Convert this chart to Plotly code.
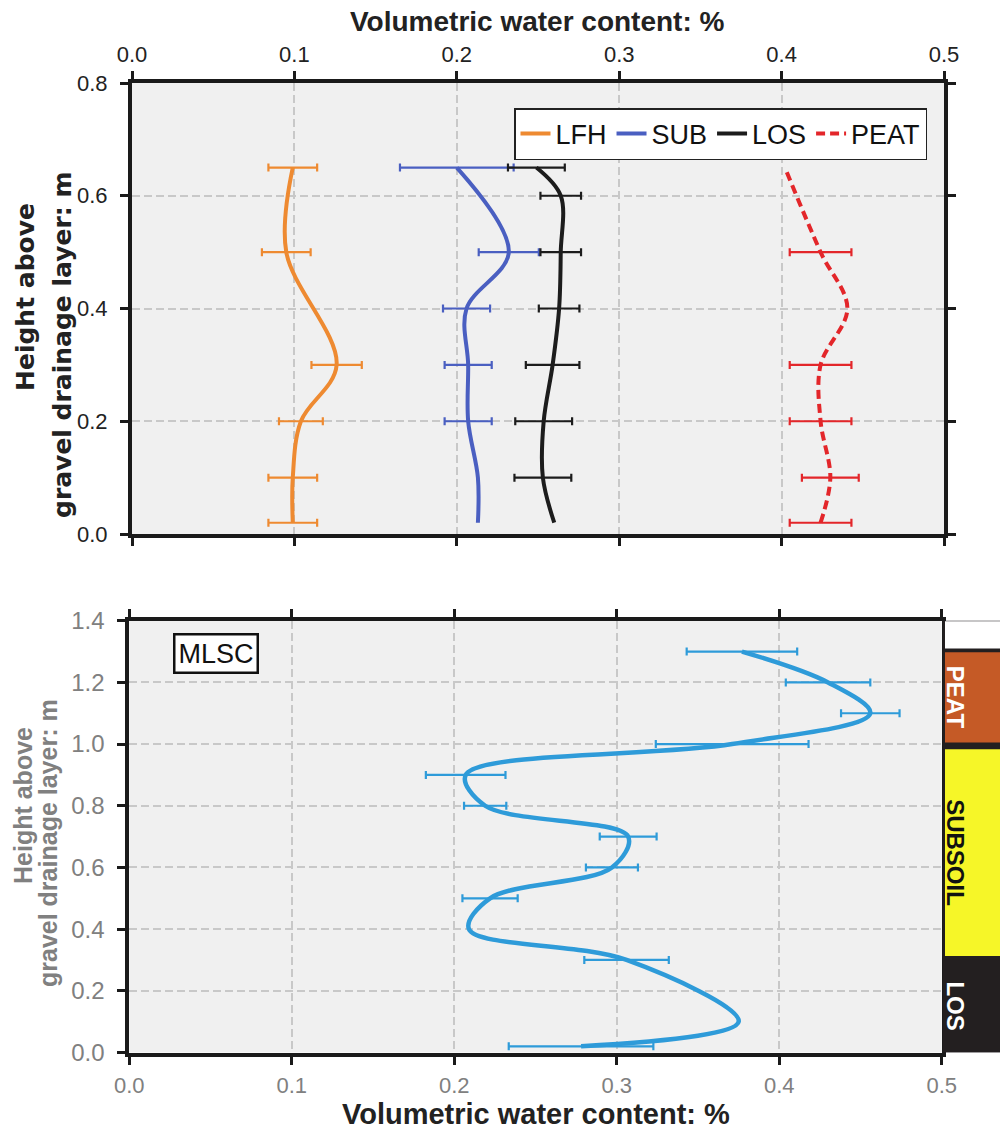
import plotly.graph_objects as go

# ---- upper panel: lysimeter profiles (height above gravel layer, m) ----
height_lfh = [0.02, 0.1, 0.2, 0.3, 0.5, 0.65]
vwc_lfh = [0.099, 0.099, 0.104, 0.126, 0.095, 0.099]
err_lfh = [0.015, 0.015, 0.0135, 0.0155, 0.015, 0.015]

height_sub = [0.02, 0.1, 0.2, 0.3, 0.4, 0.5, 0.65]
vwc_sub = [0.213, 0.213, 0.207, 0.207, 0.206, 0.232, 0.200]
err_sub = [None, None, 0.0145, 0.0145, 0.0145, 0.0185, 0.035]

height_los = [0.02, 0.1, 0.2, 0.3, 0.4, 0.5, 0.6, 0.65]
vwc_los = [0.260, 0.253, 0.2535, 0.259, 0.263, 0.264, 0.264, 0.249]
err_los = [None, 0.0175, 0.0175, 0.0165, 0.0125, 0.0125, 0.0125, 0.0175]

height_peat = [0.02, 0.1, 0.2, 0.3, 0.4, 0.5, 0.65]
vwc_peat = [0.424, 0.430, 0.424, 0.424, 0.4405, 0.424, 0.402]
err_peat = [0.019, 0.0175, 0.019, 0.019, None, 0.019, None]

# ---- lower panel: MLSC profile ----
height_mlsc = [0.02, 0.1, 0.3, 0.4, 0.5, 0.6, 0.7, 0.8, 0.9, 1.0, 1.1, 1.2, 1.3]
vwc_mlsc = [0.278, 0.375, 0.306, 0.209, 0.222, 0.297, 0.307, 0.219, 0.207, 0.371, 0.456, 0.430, 0.377]
err_mlsc = [0.0445, None, 0.026, None, 0.017, 0.016, 0.0175, 0.013, 0.0245, 0.047, 0.018, 0.026, 0.034]

# soil layers of the MLSC column
layer_names = ["LOS", "SUBSOIL", "PEAT"]
layer_bottom = [0.0, 0.313, 1.005]
layer_top = [0.302, 0.983, 1.298]

x_ticks = [0.0, 0.1, 0.2, 0.3, 0.4, 0.5]
y_ticks_top = [0.0, 0.2, 0.4, 0.6, 0.8]
y_ticks_bottom = [0.0, 0.2, 0.4, 0.6, 0.8, 1.0, 1.2, 1.4]

W, H = 1000, 1131
def px(x):
    return x / W
def py(y):
    return 1 - y / H

FONT = "Liberation Sans, Arial, sans-serif"
NARROW = "Liberation Sans Narrow, Arial Narrow, Liberation Sans, Arial, sans-serif"
GRID = "rgb(200,200,200)"
GRAY = "rgb(128,128,128)"

fig = go.Figure()


def add_profile(x, y, err, color, name, xa, ya, dash="solid", width=4, showlegend=True):
    fig.add_trace(go.Scatter(
        x=x, y=y, mode="lines", name=name,
        line=dict(color=color, width=width, shape="spline", smoothing=1, dash=dash),
        xaxis=xa, yaxis=ya, showlegend=showlegend, hoverinfo="skip",
    ))
    ex = [xi for xi, e in zip(x, err) if e is not None]
    ey = [yi for yi, e in zip(y, err) if e is not None]
    ee = [e for e in err if e is not None]
    fig.add_trace(go.Scatter(
        x=ex, y=ey, mode="markers", marker=dict(size=1, color="rgba(0,0,0,0)"),
        error_x=dict(type="data", array=ee, symmetric=True, color=color,
                     thickness=2.2, width=4),
        xaxis=xa, yaxis=ya, showlegend=False, hoverinfo="skip",
    ))


add_profile(vwc_lfh, height_lfh, err_lfh, "#ee8a31", "LFH", "x", "y")
add_profile(vwc_sub, height_sub, err_sub, "#4a5fc1", "SUB", "x", "y")
add_profile(vwc_los, height_los, err_los, "#1c1c1c", "LOS", "x", "y")
add_profile(vwc_peat, height_peat, err_peat, "#e3262a", "PEAT", "x", "y", dash="9px,5px")
add_profile(vwc_mlsc, height_mlsc, err_mlsc, "#2e9bd9", "MLSC", "x2", "y2",
            width=4.5, showlegend=False)

axis_common = dict(
    showline=True, linecolor="#1a1a1a", linewidth=4,
    ticks="outside", ticklen=8, tickwidth=3, tickcolor="#1a1a1a",
    showgrid=True, gridcolor=GRID, griddash="8px,4px", gridwidth=1.5,
    zeroline=False, tickformat=".1f", automargin=False,
)

fig.update_layout(
    width=W, height=H,
    margin=dict(l=0, r=0, t=0, b=0, autoexpand=False),
    paper_bgcolor="white", plot_bgcolor="#f0f0f0",
    xaxis=dict(axis_common, domain=[0.132, 0.944], range=[0, 0.5], tickvals=x_ticks,
               side="top", mirror="ticks", anchor="y",
               tickfont=dict(family=FONT, size=22, color="#222"), ticklabelstandoff=0),
    yaxis=dict(axis_common, domain=[py(534), py(83)], range=[0, 0.8], tickvals=y_ticks_top,
               mirror="ticks", anchor="x",
               tickfont=dict(family=FONT, size=22, color="#222"), ticklabelstandoff=8),
    xaxis2=dict(axis_common, domain=[0.1293, 0.9418], range=[0, 0.5], tickvals=x_ticks,
                mirror="ticks", anchor="y2",
                tickfont=dict(family=NARROW, size=22, color=GRAY), ticklabelstandoff=2),
    yaxis2=dict(axis_common, domain=[py(1052.5), py(620.7)], range=[0, 1.4],
                tickvals=y_ticks_bottom, mirror=True, anchor="x2",
                tickfont=dict(family=FONT, size=24, color=GRAY), ticklabelstandoff=8),
    legend=dict(
        orientation="h", x=px(927), xanchor="right", y=py(108), yanchor="top",
        bgcolor="white", bordercolor="#222", borderwidth=1.5,
        font=dict(family=FONT, size=27, color="#111"),
        itemwidth=30, tracegroupgap=0,
    ),
    showlegend=True,
)

annotations = [
    # top panel axis titles
    dict(text="<b>Volumetric water content: %</b>", x=px(537), y=py(21),
         font=dict(family=FONT, size=28, color="#222")),
    dict(text="<b>Height above</b>", x=px(25), y=py(297), textangle=-90,
         font=dict(family="DejaVu Sans, " + FONT, size=25, color="#222")),
    dict(text="<b>gravel drainage layer: m</b>", x=px(62), y=py(345), textangle=-90,
         font=dict(family="DejaVu Sans, " + FONT, size=25, color="#222")),
    # bottom panel axis titles
    dict(text="<b>Volumetric water content: %</b>", x=px(536), y=py(1114),
         font=dict(family=NARROW, size=29, color="#222")),
    dict(text="<b>Height above</b>", x=px(23), y=py(806), textangle=-90,
         font=dict(family=FONT, size=25, color=GRAY)),
    dict(text="<b>gravel drainage layer: m</b>", x=px(48), y=py(843), textangle=-90,
         font=dict(family=FONT, size=25, color=GRAY)),
    # site label
    dict(text="MLSC", x=px(216), y=py(653), bgcolor="white", bordercolor="#111",
         borderwidth=2.5, borderpad=3, font=dict(family=FONT, size=27, color="#111")),
]
for a in annotations:
    a.setdefault("xref", "paper")
    a.setdefault("yref", "paper")
    a.setdefault("showarrow", False)
    a.setdefault("xanchor", "center")
    a.setdefault("yanchor", "middle")
    fig.add_annotation(**a)

# soil layer strip beside the lower panel
layer_fill = {"LOS": "#231f20", "SUBSOIL": "#f6f628", "PEAT": "#c55a26"}
layer_text = {"LOS": "white", "SUBSOIL": "#111", "PEAT": "white"}
strip_x0, strip_x1 = px(942.7), 1.0
fig.add_shape(type="rect", xref="paper", yref="y2", x0=strip_x0, x1=strip_x1,
              y0=0, y1=1.406, fillcolor="#231f20", line=dict(width=0), layer="above")
fig.add_shape(type="rect", xref="paper", yref="y2", x0=px(945), x1=strip_x1,
              y0=1.31, y1=1.398, fillcolor="white", line=dict(width=0), layer="above")
for name, y0, y1 in zip(layer_names, layer_bottom, layer_top):
    fig.add_shape(type="rect", xref="paper", yref="y2", x0=px(945), x1=strip_x1,
                  y0=y0, y1=y1, fillcolor=layer_fill[name], line=dict(width=0),
                  layer="above")
    fig.add_annotation(text="<b>%s</b>" % name, xref="paper", yref="y2",
                       x=px(971), y=(y0 + y1) / 2, textangle=90, showarrow=False,
                       font=dict(family=FONT, size=24, color=layer_text[name]))

fig.write_html("out.html")
